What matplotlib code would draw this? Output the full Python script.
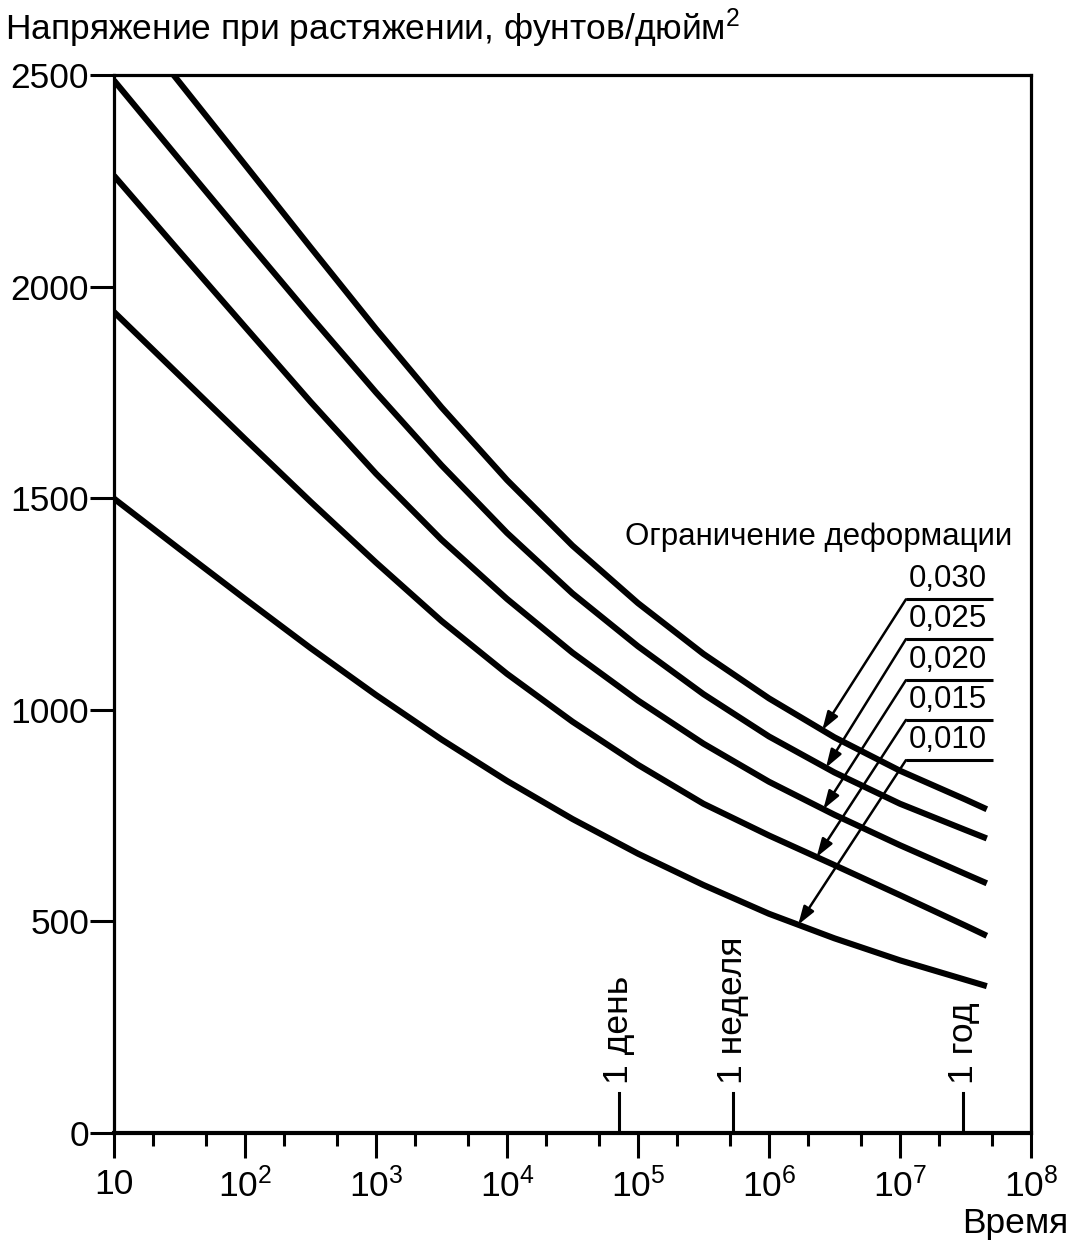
import numpy as np
import matplotlib.pyplot as plt
from matplotlib.ticker import FixedLocator, FixedFormatter, NullFormatter

plt.rcParams['font.family'] = ['Liberation Sans', 'DejaVu Sans']
plt.rcParams['mathtext.fontset'] = 'custom'
plt.rcParams['mathtext.rm'] = 'Liberation Sans'
plt.rcParams['mathtext.it'] = 'Liberation Sans'

# time points (s), half a decade apart
time_full = [1e1, 3.16e1, 1e2, 3.16e2, 1e3, 3.16e3, 1e4, 3.16e4,
             1e5, 3.16e5, 1e6, 3.16e6, 1e7, 3.16e7, 4.6e7]
time_030 = [2.85e1, 1e2, 3.16e2, 1e3, 3.16e3, 1e4, 3.16e4,
            1e5, 3.16e5, 1e6, 3.16e6, 1e7, 3.16e7, 4.6e7]

# tensile stress, psi, per strain limit
stress_030 = [2500, 2288, 2093, 1900, 1715, 1543, 1388, 1252, 1132, 1027, 935, 856, 788, 765]
stress_025 = [2487, 2300, 2114, 1930, 1750, 1578, 1418, 1275, 1150, 1037, 937, 852, 778, 716, 696]
stress_020 = [2262, 2083, 1905, 1728, 1558, 1402, 1262, 1135, 1022, 920, 830, 752, 680, 612, 590]
stress_015 = [1940, 1790, 1640, 1492, 1348, 1210, 1085, 972, 870, 778, 703, 633, 562, 490, 466]
stress_010 = [1499, 1380, 1262, 1146, 1035, 930, 832, 742, 660, 586, 518, 460, 408, 362, 347]

strain_labels = ['0,030', '0,025', '0,020', '0,015', '0,010']
curves = [(time_030, stress_030), (time_full, stress_025), (time_full, stress_020),
          (time_full, stress_015), (time_full, stress_010)]
# where each leader arrow touches its curve
arrow_time = [2.55e6, 2.72e6, 2.6e6, 2.31e6, 1.67e6]

# time marks on the axis
mark_time = [7.16e4, 5.31e5, 3.03e7]
mark_labels = ['1 день', '1 неделя', '1 год']

x_major = [1e1, 1e2, 1e3, 1e4, 1e5, 1e6, 1e7, 1e8]
x_major_labels = ['10', '10$^2$', '10$^3$', '10$^4$', '10$^5$', '10$^6$', '10$^7$', '10$^8$']
x_minor = [m * 10.0 ** k for k in range(1, 8) for m in (2, 5)]
y_ticks = [0, 500, 1000, 1500, 2000, 2500]

FS = 25.5      # axis texts
FS_KEY = 22.5  # strain-limit key

fig = plt.figure(figsize=(10.72, 12.46), dpi=100)
ax = fig.add_axes((114 / 1072, 1 - 1133 / 1246, (1031 - 114) / 1072, (1133 - 75) / 1246))

for t, s in curves:
    ax.plot(t, s, color='black', lw=4.4, solid_capstyle='butt', solid_joinstyle='round')

ax.set_xscale('log')
ax.set_xlim(1e1, 1e8)
ax.set_ylim(0, 2500)

ax.xaxis.set_major_locator(FixedLocator(x_major))
ax.xaxis.set_major_formatter(FixedFormatter(x_major_labels))
ax.xaxis.set_minor_locator(FixedLocator(x_minor))
ax.xaxis.set_minor_formatter(NullFormatter())
ax.set_yticks(y_ticks)
ax.set_yticklabels([str(v) for v in y_ticks])

ax.tick_params(axis='x', which='major', direction='out', length=18, width=2.2,
               labelsize=FS, pad=7)
ax.tick_params(axis='x', which='minor', direction='out', length=9, width=2.2)
ax.tick_params(axis='y', which='major', direction='out', length=17, width=2.2,
               labelsize=FS, pad=1)

for side in ['left', 'right', 'top']:
    ax.spines[side].set_linewidth(2.3)
ax.spines['bottom'].set_linewidth(3.0)

# day / week / year marks
for t, lab in zip(mark_time, mark_labels):
    ax.plot([t, t], [0, 95], color='black', lw=2.2)
    ax.text(t, 116, lab, rotation=90, ha='center', va='bottom', fontsize=FS)

# key title and leader lines
ax.text(1.0e8 * 0.72, 1408, 'Ограничение деформации', ha='right', va='center', fontsize=FS_KEY)

line_x0, line_x1 = 1.11e7, 5.1e7
line_y = [1261, 1167, 1070, 976, 881]
for (t, s), lab, at, ly in zip(curves, strain_labels, arrow_time, line_y):
    tip_s = np.interp(np.log10(at), np.log10(t), s)
    ax.plot([line_x0, line_x1], [ly, ly], color='black', lw=2.2, solid_capstyle='butt')
    ax.annotate('', xy=(at, tip_s), xytext=(line_x0, ly),
                arrowprops=dict(arrowstyle='-|>,head_length=0.55,head_width=0.18',
                                color='black', lw=1.8, shrinkA=0, shrinkB=0,
                                mutation_scale=20))
    ax.text(2.32e7, ly + 12, lab, ha='center', va='bottom', fontsize=FS_KEY)

fig.text(5 / 1072, 1 - 40 / 1246, 'Напряжение при растяжении, фунтов/дюйм$^2$',
         ha='left', va='baseline', fontsize=FS)
fig.text(1068 / 1072, 1 - 1233 / 1246, 'Время', ha='right', va='baseline', fontsize=FS)

fig.savefig('out.png', dpi=100)
